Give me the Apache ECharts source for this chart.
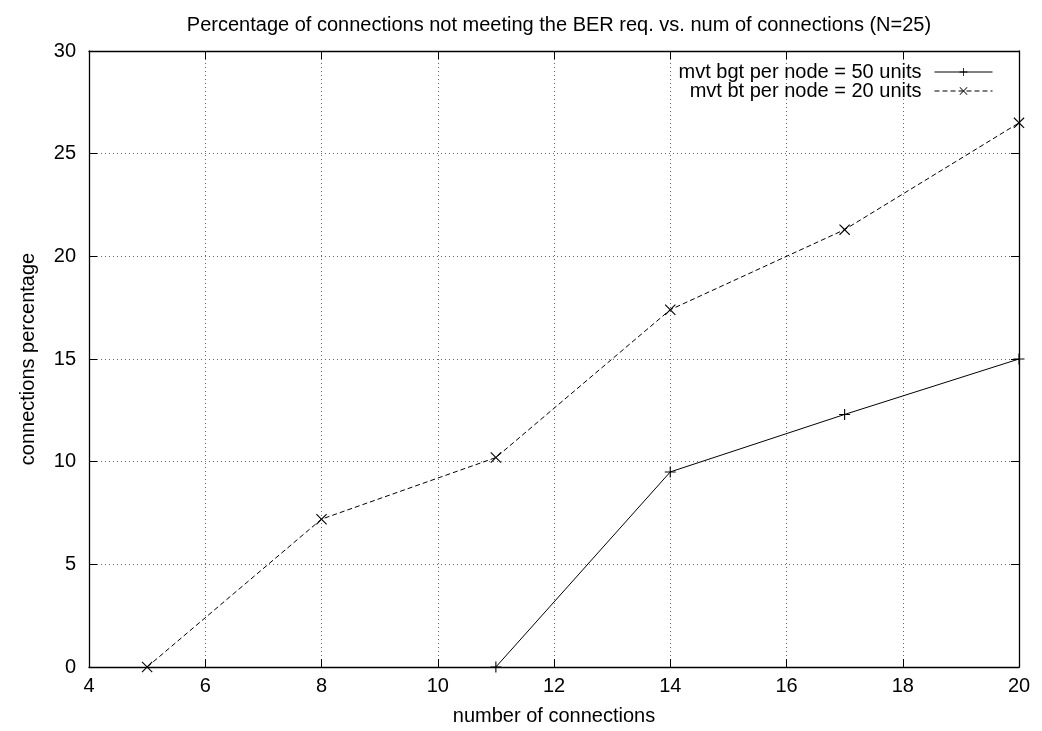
<!DOCTYPE html>
<html>
<head>
<meta charset="utf-8">
<script src="https://cdn.jsdelivr.net/npm/echarts@6/dist/echarts.min.js"></script>
<style>
  html, body { margin: 0; padding: 0; background: #fff; }
  #chart { width: 1042px; height: 731px; }
</style>
</head>
<body>
<div id="chart"></div>
<script>
// Connections not meeting the BER requirement, by number of connections (N=25)
const titleText = 'Percentage of connections not meeting the BER req. vs. num of connections (N=25)';
const xAxisName = 'number of connections';
const yAxisName = 'connections percentage';

const seriesNames = ['mvt bgt per node = 50 units', 'mvt bt per node = 20 units'];

const budget50X = [11, 14, 17, 20];
const budget50Y = [0, 9.5, 12.3, 15];

const budget20X = [5, 8, 11, 14, 17, 20];
const budget20Y = [0, 7.2, 10.2, 17.4, 21.3, 26.5];

const xTicks = { min: 4, max: 20, interval: 2 };
const yTicks = { min: 0, max: 30, interval: 5 };

const FONT = 'Liberation Sans, Arial, Helvetica, sans-serif';
const FONT_SIZE = 20;

// Filled "+" and "x" marker outlines
const plusMark = 'path://M4.5,0h1v4.5h4.5v1h-4.5v4.5h-1v-4.5h-4.5v-1h4.5z';
const crossMark = 'path://M0.7,0L5,4.3L9.3,0L10,0.7L5.7,5L10,9.3L9.3,10L5,5.7L0.7,10L0,9.3L4.3,5L0,0.7z';

const pairs = (xs, ys) => xs.map((x, i) => [x, ys[i]]);

const chart = echarts.init(document.getElementById('chart'), null, { renderer: 'canvas' });

const tickStyle = { show: true, inside: true, length: 8, lineStyle: { color: '#000', width: 1 } };
const gridLine = { show: true, lineStyle: { color: '#666', type: [1, 3], width: 1 } };
const axisLine = { show: true, onZero: false, lineStyle: { color: '#000', width: 1.3 } };
const labelStyle = { color: '#000', fontFamily: FONT, fontSize: FONT_SIZE };

chart.setOption({
  backgroundColor: '#fff',
  animation: false,
  title: {
    text: titleText,
    left: 554,
    textAlign: 'center',
    top: 10,
    textStyle: { color: '#000', fontFamily: FONT, fontSize: FONT_SIZE, fontWeight: 'normal' }
  },
  legend: {
    orient: 'vertical',
    right: 44,
    top: 57,
    align: 'right',
    itemWidth: 58,
    itemHeight: 10,
    itemGap: -1,
    lineStyle: { width: 1 },
    textStyle: { color: '#000', fontFamily: FONT, fontSize: FONT_SIZE, padding: [0, 8, 0, 0] },
    data: seriesNames
  },
  grid: { left: 89, right: 23, top: 51, bottom: 64, containLabel: false },
  xAxis: [
    {
      type: 'value',
      min: xTicks.min, max: xTicks.max, interval: xTicks.interval,
      name: xAxisName,
      nameLocation: 'middle',
      nameGap: 39,
      nameTextStyle: labelStyle,
      axisLine, axisTick: tickStyle,
      axisLabel: Object.assign({ margin: 9 }, labelStyle),
      splitLine: gridLine
    },
    {
      type: 'value', position: 'top',
      min: xTicks.min, max: xTicks.max, interval: xTicks.interval,
      axisLine, axisTick: tickStyle,
      axisLabel: { show: false }, splitLine: { show: false }
    }
  ],
  yAxis: [
    {
      type: 'value',
      min: yTicks.min, max: yTicks.max, interval: yTicks.interval,
      name: yAxisName,
      nameLocation: 'middle',
      nameGap: 51,
      nameTextStyle: labelStyle,
      axisLine, axisTick: tickStyle,
      axisLabel: Object.assign({ margin: 13 }, labelStyle),
      splitLine: gridLine
    },
    {
      type: 'value', position: 'right',
      min: yTicks.min, max: yTicks.max, interval: yTicks.interval,
      axisLine, axisTick: tickStyle,
      axisLabel: { show: false }, splitLine: { show: false }
    }
  ],
  series: [
    {
      name: seriesNames[0],
      type: 'line',
      data: pairs(budget50X, budget50Y),
      clip: false,
      symbol: plusMark,
      symbolSize: 11,
      showSymbol: true,
      lineStyle: { color: '#000', width: 1, type: 'solid' },
      itemStyle: { color: '#000' }
    },
    {
      name: seriesNames[1],
      type: 'line',
      data: pairs(budget20X, budget20Y),
      clip: false,
      symbol: crossMark,
      symbolSize: 11,
      showSymbol: true,
      lineStyle: { color: '#000', width: 1, type: [5, 3] },
      itemStyle: { color: '#000' }
    }
  ]
});
</script>
</body>
</html>
